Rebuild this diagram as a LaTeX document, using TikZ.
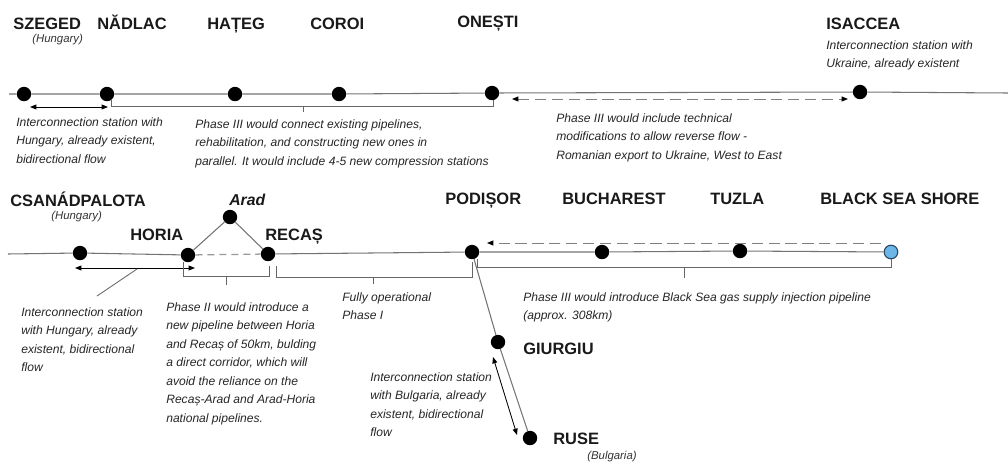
\documentclass[tikz,border=0pt]{standalone}
\usepackage{fontspec}
\setmainfont{Liberation Sans}
\usetikzlibrary{arrows.meta}
\definecolor{seablue}{HTML}{6DB6E8}
\definecolor{seaedge}{HTML}{2B4A66}

\begin{document}
\begin{tikzpicture}[x=0.025cm, y=-0.025cm,
		pipe/.style={draw=black!55, line width=0.75pt},
		station/.style={circle, fill=black, inner sep=0pt, minimum size=0.36cm},
		shore/.style={circle, fill=seablue, draw=seaedge, line width=0.8pt, inner sep=0pt, minimum size=0.34cm},
		city/.style={inner sep=0pt, anchor=base west, text=black!90, font=\bfseries\fontsize{11.7pt}{14pt}\selectfont},
		country/.style={inner sep=0pt, anchor=base west, text=black!80, font=\itshape\fontsize{8.1pt}{10pt}\selectfont},
		note/.style={inner sep=0pt, anchor=north west, align=left, text=black!85, font=\itshape\fontsize{8.6pt}{13.2pt}\selectfont},
		bracket/.style={draw=black!60, line width=0.6pt},
		twoway/.style={line width=0.6pt, {Triangle[length=4.5pt,width=3.5pt]}-{Triangle[length=4.5pt,width=3.5pt]}},
		planned/.style={draw=black!50, line width=0.7pt, dash pattern=on 8pt off 4pt}]
	
	\useasboundingbox (0,0) rectangle (1008,462);
	
	% top line
	\coordinate (topW) at (9,94);
	\coordinate (topE) at (1008,93);
	\node[station] (szeged) at (24,94) {};
	\node[station] (nadlac) at (107,94) {};
	\node[station] (hateg) at (235,94) {};
	\node[station] (coroi) at (339,94) {};
	\node[station] (onesti) at (492,93) {};
	\node[station] (isaccea) at (860,92) {};
	\draw[pipe] (topW) -- (szeged) -- (nadlac) -- (hateg) -- (coroi) -- (onesti) -- (isaccea) -- (topE);
	
	\node[city] (szegedT) at (13,29) {SZEGED};
	\node[country] (szegedC) at (32,42) {(Hungary)};
	\node[city] (nadlacT) at (97,29) {NĂDLAC};
	\node[city] (hategT) at (207,29) {HAȚEG};
	\node[city] (coroiT) at (310,29) {COROI};
	\node[city] (onestiT) at (457,27) {ONEȘTI};
	\node[city] (isacceaT) at (826,29) {ISACCEA};
	\node[note] (isacceaN) at (826,40) {Interconnection station with\\Ukraine, already existent};
	
	\coordinate (huA) at (30,107);
	\coordinate (huB) at (108,107);
	\draw[twoway] (huA) -- (huB);
	\node[note] (huN) at (16,117) {Interconnection station with\\Hungary, already existent,\\bidirectional flow};
	
	\coordinate (p3a) at (111,100);
	\coordinate (p3b) at (493,100);
	\coordinate (p3t) at (303,106);
	\draw[bracket] (p3a) -- (111,106) -- (493,106) -- (p3b);
	\draw[bracket] (p3t) -- (303,112);
	\node[note] (p3N) at (195,119) {Phase III would connect existing pipelines,\\rehabilitation, and constructing new ones in\\parallel. It would include 4-5 new compression stations};
	
	\coordinate (revA) at (512,99);
	\coordinate (revB) at (848,99);
	\draw[planned, {Triangle[length=4.5pt,width=3.5pt,color=black]}-{Triangle[length=4.5pt,width=3.5pt,color=black]}] (revA) -- (revB);
	\node[note] (revN) at (556,113) {Phase III would include technical\\modifications to allow reverse flow -\\Romanian export to Ukraine, West to East};
	
	% bottom line
	\coordinate (botW) at (8,254);
	\node[station] (csanad) at (80,253) {};
	\node[station] (horia) at (188,255) {};
	\node[station] (recas) at (268,254) {};
	\node[station] (arad) at (230,217) {};
	\node[station] (podisor) at (472,252) {};
	\node[station] (bucharest) at (602,252) {};
	\node[station] (tuzla) at (740,251) {};
	\node[shore] (blacksea) at (891,252) {};
	\node[station] (giurgiu) at (498,342) {};
	\node[station] (ruse) at (530,438) {};
	\draw[pipe] (botW) -- (csanad) -- (horia);
	\draw[pipe] (horia) -- (arad) -- (recas);
	\draw[draw=black!40, line width=0.9pt, dash pattern=on 5pt off 3.5pt] (horia) -- (recas);
	\draw[pipe] (recas) -- (podisor) -- (bucharest) -- (tuzla) -- (blacksea);
	\draw[pipe] (podisor) -- (giurgiu) -- (ruse);
	
	\node[city] (csanadT) at (10,206) {CSANÁDPALOTA};
	\node[country] (csanadC) at (51,219) {(Hungary)};
	\node[city, font=\bfseries\itshape\fontsize{11.2pt}{14pt}\selectfont] (aradT) at (229,205) {Arad};
	\node[city] (horiaT) at (130,240) {HORIA};
	\node[city] (recasT) at (265,240) {RECAȘ};
	\node[city] (podisorT) at (445,204) {PODIȘOR};
	\node[city] (bucharestT) at (562,204) {BUCHAREST};
	\node[city] (tuzlaT) at (710,204) {TUZLA};
	\node[city] (blackseaT) at (820,204) {BLACK SEA SHORE};
	\node[city] (giurgiuT) at (523,354) {GIURGIU};
	\node[city] (ruseT) at (553,444) {RUSE};
	\node[country] (ruseC) at (587,459) {(Bulgaria)};
	
	\coordinate (hu2A) at (75,268);
	\coordinate (hu2B) at (195,268);
	\coordinate (leadA) at (137,269);
	\coordinate (leadB) at (97,296);
	\draw[twoway] (hu2A) -- (hu2B);
	\draw[draw=black!60, line width=0.6pt] (leadA) -- (leadB);
	\node[note] (hu2N) at (21,307) {Interconnection station\\with Hungary, already\\existent, bidirectional\\flow};
	
	\coordinate (p2a) at (183,262);
	\coordinate (p2b) at (269,266);
	\draw[bracket] (p2a) -- (183,276) -- (269,276) -- (p2b);
	\draw[bracket] (226,276) -- (226,285);
	\node[note] (p2N) at (166,302) {Phase II would introduce a\\new pipeline between Horia\\and Recaș of 50km, bulding\\a direct corridor, which will\\avoid the reliance on the\\Recaș-Arad and Arad-Horia\\national pipelines.};
	
	\coordinate (p1a) at (276,266);
	\coordinate (p1b) at (472,262);
	\draw[bracket] (p1a) -- (276,277) -- (472,277) -- (p1b);
	\draw[bracket] (373,277) -- (373,284);
	\node[note] (p1N) at (342,292) {Fully operational\\Phase I};
	
	\coordinate (p3c) at (477,259);
	\coordinate (p3d) at (891,259);
	\draw[bracket] (p3c) -- (477,267) -- (891,267) -- (p3d);
	\draw[bracket] (684,267) -- (684,278);
	\node[note] (p3bN) at (523,292) {Phase III would introduce Black Sea gas supply injection pipeline\\(approx. 308km)};
	
	\coordinate (seaA) at (881,243);
	\coordinate (seaB) at (487,243);
	\draw[planned, -{Triangle[length=4.5pt,width=3.5pt,color=black]}] (seaA) -- (seaB);
	
	\coordinate (bgA) at (493,357);
	\coordinate (bgB) at (517,435);
	\draw[twoway] (bgA) -- (bgB);
	\node[note] (bgN) at (370,372) {Interconnection station\\with Bulgaria, already\\existent, bidirectional\\flow};
	
\end{tikzpicture}
\end{document}
